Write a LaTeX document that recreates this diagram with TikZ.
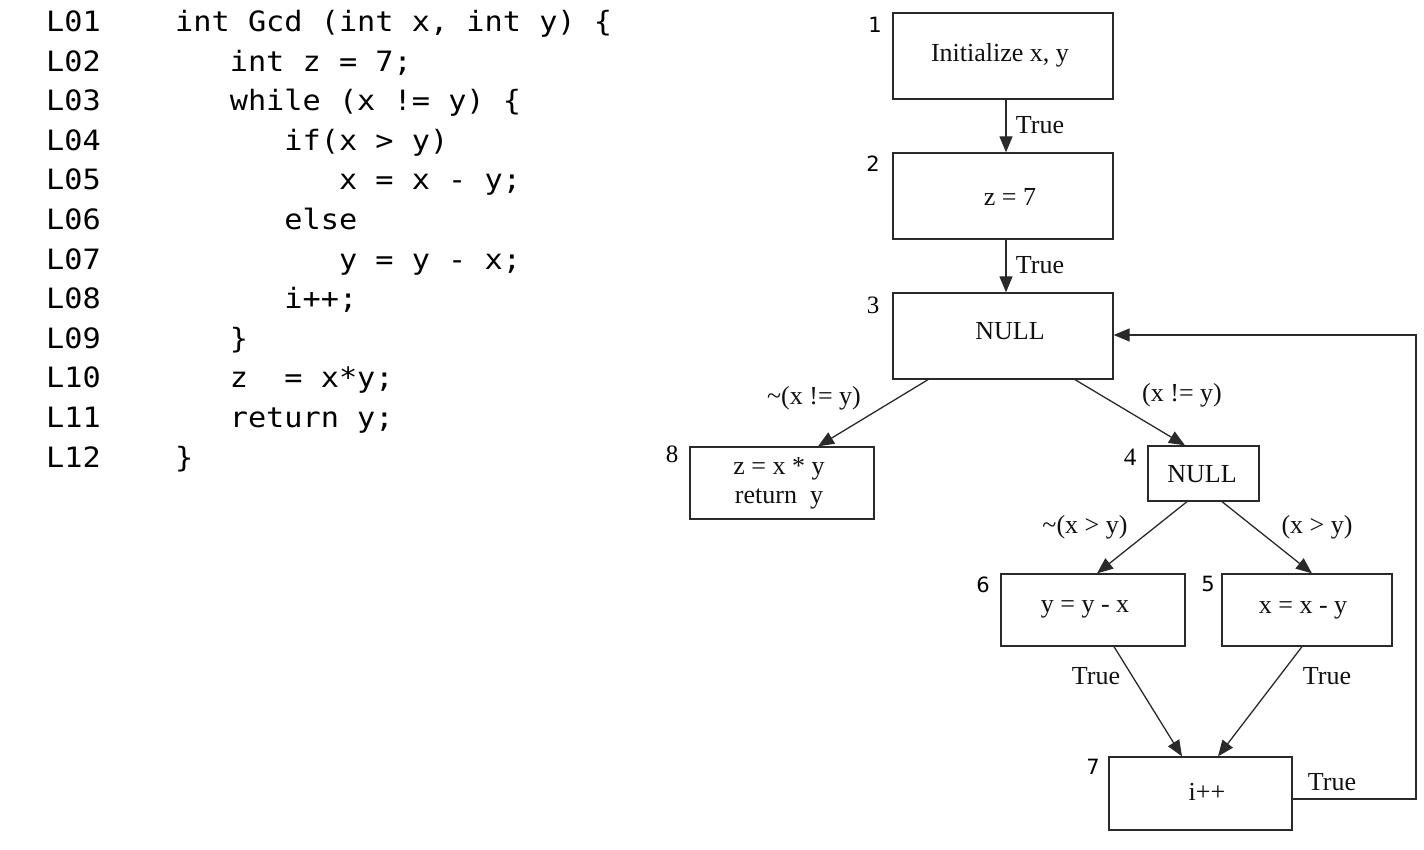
\documentclass[tikz,border=0pt]{standalone}
\usepackage{fontspec}
\setmainfont{Liberation Serif}
\newfontfamily\codefont[FakeStretch=1.08]{DejaVu Sans Mono}
\newfontfamily\numsans{DejaVu Sans}
\usetikzlibrary{arrows.meta,calc}
\definecolor{ink}{HTML}{111111}
\definecolor{edge}{HTML}{2A2A2A}
\tikzset{
  codeline/.style={anchor=base west,inner sep=0pt,font=\codefont\fontsize{28}{32}\selectfont,text=black},
  box/.style={draw=edge,line width=1.3pt,inner sep=0pt,fill=white},
  boxtext/.style={inner sep=0pt,text=ink,font=\fontsize{26}{29}\selectfont,align=center},
  numlabel/.style={inner sep=0pt,text=black,font=\numsans\fontsize{21}{24}\selectfont},
  numserif/.style={inner sep=0pt,text=black,font=\fontsize{25}{28}\selectfont},
  edgelabel/.style={inner sep=0pt,text=ink,font=\fontsize{26}{29}\selectfont},
  arr/.style={draw=edge,line width=1.3pt,-{Triangle[length=16pt,width=13pt]}},
}
\begin{document}
\begin{tikzpicture}[x=1pt,y=-1pt]
\useasboundingbox (0,0) rectangle (1424,850);
% ---------- code listing ----------
\def\cw{18.2}
\foreach \i/\ind/\txt in {
  1/0/{int Gcd (int x, int y) \{},
  2/3/{int z = 7;},
  3/3/{while (x != y) \{},
  4/6/{if(x > y)},
  5/9/{x = x - y;},
  6/6/{else},
  7/9/{y = y - x;},
  8/6/{i++;},
  9/3/{\}},
  10/3/{z\ \ = x*y;},
  11/3/{return y;},
  12/0/{\}}}{
  \pgfmathsetmacro{\yy}{31.5+39.6*(\i-1)}
  \pgfmathsetmacro{\xx}{175+\cw*\ind}
  \node[codeline] (ln\i) at (46,\yy) {L\ifnum\i<10 0\fi\i};
  \node[codeline] (code\i) at (\xx,\yy) {\txt};
}
% ---------- graph boxes ----------
\node[box,minimum width=220pt,minimum height=86pt] (n1) at (1003,56) {};
\node[box,minimum width=220pt,minimum height=86pt] (n2) at (1003,196) {};
\node[box,minimum width=220pt,minimum height=86pt] (n3) at (1003,336) {};
\node[box,minimum width=184pt,minimum height=72pt] (n8) at (782,483) {};
\node[box,minimum width=111pt,minimum height=55pt] (n4) at (1203.5,473.5) {};
\node[box,minimum width=184pt,minimum height=72pt] (n6) at (1093,610) {};
\node[box,minimum width=170pt,minimum height=72pt] (n5) at (1307,610) {};
\node[box,minimum width=183pt,minimum height=73pt] (n7) at (1200.5,793.5) {};
% box texts
\node[boxtext] (t1) at (1000,55) {Initialize x, y};
\node[boxtext] (t2) at (1010,197) {z = 7};
\node[boxtext] (t3) at (1010,331) {NULL};
\node[boxtext] (t8) at (779,483) {z = x * y\\return\ \ y};
\node[boxtext] (t4) at (1202,474) {NULL};
\node[boxtext] (t6) at (1085,609) {y = y - x};
\node[boxtext] (t5) at (1303,610) {x = x - y};
\node[boxtext] (t7) at (1207,792) {i++};
% number labels
\node[numlabel] (k1) at (875,25) {1};
\node[numlabel] (k2) at (873,164) {2};
\node[numserif] (k3) at (873,305) {3};
\node[numserif] (k8) at (672,454) {8};
\node[numserif] (k4) at (1130,457) {4};
\node[numlabel] (k6) at (983,585) {6};
\node[numlabel] (k5) at (1208,584) {5};
\node[numlabel] (k7) at (1093,767) {7};
% ---------- edges ----------
\draw[arr] ([xshift=3pt]n1.south) -- ([xshift=3pt]n2.north);
\draw[arr] ([xshift=3pt]n2.south) -- ([xshift=3pt]n3.north);
\draw[arr] ([xshift=-75pt]n3.south) -- ([xshift=36pt]n8.north);
\draw[arr] ([xshift=72pt]n3.south) -- ([xshift=-18.5pt]n4.north);
\draw[arr] ([xshift=-16.5pt]n4.south) -- ([xshift=4pt]n6.north);
\draw[arr] ([xshift=18.5pt]n4.south) -- ([xshift=5pt]n5.north);
\draw[arr] ([xshift=21pt]n6.south) -- ([xshift=-18.5pt]n7.north);
\draw[arr] ([xshift=-5pt]n5.south) -- ([xshift=17.5pt]n7.north);
\coordinate (loopcorner) at (1416,335);
\draw[arr] ([yshift=-5.5pt]n7.east) -| (loopcorner) -- ([yshift=1pt]n3.east);
% edge labels
\node[edgelabel] (e12) at (1040,125) {True};
\node[edgelabel] (e23) at (1040,265) {True};
\node[edgelabel] (e38) at (814,398) {\textasciitilde(x != y)};
\node[edgelabel] (e34) at (1182,395) {(x != y)};
\node[edgelabel] (e46) at (1085,527) {\textasciitilde(x > y)};
\node[edgelabel] (e45) at (1317,527) {(x > y)};
\node[edgelabel] (e67) at (1096,676) {True};
\node[edgelabel] (e57) at (1327,676) {True};
\node[edgelabel] (e73) at (1332,782) {True};
\end{tikzpicture}
\end{document}
